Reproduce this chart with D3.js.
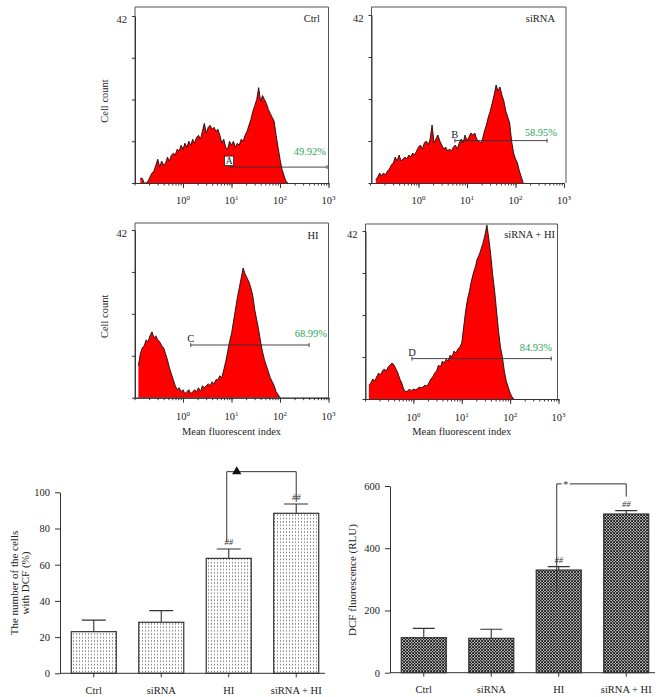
<!DOCTYPE html>
<html><head><meta charset="utf-8">
<script src="https://cdn.jsdelivr.net/npm/d3@7/dist/d3.min.js"></script>
<style>body{margin:0;background:#fff;} svg{display:block;font-family:"Liberation Serif","DejaVu Serif",serif;}</style>
</head><body>
<svg id="c" width="667" height="697"></svg>
<script>
// ---------------- DATA ----------------
const panelNames = ["Ctrl", "siRNA", "HI", "siRNA + HI"];
const gateLetters = ["A", "B", "C", "D"];
const gatePercents = ["49.92%", "58.95%", "68.99%", "84.93%"];
const gateFrom = [0.95, 0.75, 0.16, -0.03];   // log10 of fluorescence
const gateTo = [2.97, 2.65, 2.6, 2.85];
const gateLevel = [4.0, 10.6, 13.2, 10.1];      // cell count level
const binStep = 0.04;                           // log10 channel width
const yMaxCount = 42;
const countTicks = [0, 10.5, 21, 31.5, 42];
const xMajorTicks = [1, 10, 100, 1000];
const xMajorExp = ["0", "1", "2", "3"];

const ctrlStart = -0.88;
const ctrlCounts = [1.2, 1.2, 0, 0, 0.5, 1.5, 2.5, 3, 4.5, 6, 4, 5.5, 4.5, 5, 6.5, 5.5, 7, 7.5, 7, 8.5, 8, 9.5, 8.5, 10, 9, 10.5, 9.5, 11, 10, 11.5, 12, 11, 13, 15, 12.5, 14, 14.5, 13.5, 14, 13, 13.5, 12, 10, 11, 9, 8.5, 10.5, 9.5, 10.5, 9, 10, 9.5, 11, 10.5, 12, 13, 14.5, 16, 18, 19.5, 21, 24, 20.5, 22, 21, 20, 18.5, 17.5, 16.5, 15.5, 12, 9, 6, 3.5, 2, 0.5, 0];
const sirnaStart = -0.88;
const sirnaCounts = [0.8, 1.5, 2.5, 1.8, 2.5, 2, 3, 3.5, 4.5, 5, 6.5, 5.5, 7, 5.5, 6, 6.5, 6, 7, 6.5, 7.5, 7, 8, 9, 9.5, 8.5, 10, 10.5, 9.5, 11, 14.5, 10, 11, 12, 10.5, 9.5, 8.5, 9, 8, 8.5, 8, 9, 9.5, 8.5, 10, 11, 10, 12, 10.5, 11.5, 12.5, 12, 12.5, 11, 10.5, 10, 11, 13, 14.5, 16.5, 18, 20, 22, 24.5, 23, 24, 22, 20.5, 18, 16.5, 15, 10.5, 7.5, 6, 5, 3, 1.5, 0];
const hiStart = -0.92;
const hiCounts = [8, 11, 12.5, 13, 14.5, 14, 15.5, 16.5, 15, 15.5, 14.5, 14, 13, 12.5, 11, 9.5, 7.5, 6, 4.5, 3, 2, 2.5, 1.5, 2, 1, 1.5, 2, 1, 1.5, 2, 1.5, 2.5, 1.5, 3, 2.5, 3, 3.5, 3, 4, 3.5, 4.5, 4.5, 5.5, 5, 7, 9, 11.5, 14, 16, 19, 22, 25, 27.5, 30, 32.5, 31, 30, 29, 27.5, 25.5, 22, 19.5, 17, 14, 11.5, 9.5, 8, 6.5, 5, 4, 3, 1.5, 0.8, 0];
const sirnaHiStart = -0.92;
const sirnaHiCounts = [3.5, 4, 5, 4.5, 5.5, 6.5, 6, 7, 7.5, 7, 8, 8.5, 9, 8.5, 7.5, 6.5, 5, 4, 2.5, 1.8, 2, 2.5, 2, 2.5, 2.3, 2.5, 3, 2.8, 3, 3.5, 3.2, 4, 5, 5.5, 6.5, 7, 8.5, 8, 9.5, 9, 10, 9.5, 11, 10.5, 12, 11.5, 12.5, 13, 14, 18, 22, 25, 27, 29.5, 31.5, 33, 35, 36, 37.5, 39, 41, 43.5, 40, 36, 31, 27, 22, 17, 13, 10.5, 7, 4.5, 3, 1.5, 0.5, 0];

const groups = ["Ctrl", "siRNA", "HI", "siRNA + HI"];
const dcfPercent = [23, 28.2, 63.5, 88.4];
const dcfPercentErr = [6.4, 6.4, 5.2, 5.1];
const dcfRLU = [112.5, 110.5, 330, 510];
const dcfRLUErr = [30, 29, 11, 11];
const percentTicks = [0, 20, 40, 60, 80, 100];
const rluTicks = [0, 200, 400, 600];
const hashMarks = ["", "", "##", "##"];

// ---------------- LAYOUT ----------------
const histStarts = [ctrlStart, sirnaStart, hiStart, sirnaHiStart];
const histCounts = [ctrlCounts, sirnaCounts, hiCounts, sirnaHiCounts];
const histLayout = [
  {x0: 134.5, x1: 328.5, yBase: 183, yTop: 16, frameTop: 7, frameRight: 328.5, axisX: 135, titleX: 320, titleY: 21.5, lblDy: 21, pctX: 326, pctY: 154.5, ylabel: true, xlabel: false, boxLetter: true},
  {x0: 370, x1: 564, yBase: 183, yTop: 15, frameTop: 7, frameRight: 566, axisX: 371.5, titleX: 555, titleY: 21.5, lblDy: 21, pctX: 557, pctY: 135.5, ylabel: false, xlabel: false, boxLetter: false},
  {x0: 134.5, x1: 328.5, yBase: 397.7, yTop: 230, frameTop: 223, frameRight: 328.5, axisX: 135, titleX: 318.5, titleY: 238.5, lblDy: 22.5, pctX: 327, pctY: 336.5, ylabel: true, xlabel: true, boxLetter: false},
  {x0: 365, x1: 558.5, yBase: 399, yTop: 231, frameTop: 224, frameRight: 557.5, axisX: 365.5, titleX: 555, titleY: 237.5, lblDy: 22, pctX: 552, pctY: 350.5, ylabel: false, xlabel: true, boxLetter: false}
];

const svg = d3.select("#c");
const defs = svg.append("defs");
// dotted pattern
const pd = defs.append("pattern").attr("id", "dots").attr("patternUnits", "userSpaceOnUse").attr("width", 3).attr("height", 3.4);
pd.append("rect").attr("width", 3).attr("height", 3.4).attr("fill", "#fff");
pd.append("rect").attr("x", 1).attr("y", 1.2).attr("width", 1).attr("height", 1).attr("fill", "#444");
// checker pattern
const pc = defs.append("pattern").attr("id", "checks").attr("patternUnits", "userSpaceOnUse").attr("width", 3).attr("height", 3);
pc.append("rect").attr("width", 3).attr("height", 3).attr("fill", "#1a1a1a");
pc.append("rect").attr("x", 1.5).attr("y", 0).attr("width", 1.2).attr("height", 1.2).attr("fill", "#fff");
pc.append("rect").attr("x", 0).attr("y", 1.5).attr("width", 1.2).attr("height", 1.2).attr("fill", "#fff");

function drawPanel(i) {
  const L = histLayout[i];
  const x = d3.scaleLog().domain([0.1, 1000]).range([L.x0, L.x1]);
  const y = d3.scaleLinear().domain([0, yMaxCount]).range([L.yBase, L.yTop]);
  const g = svg.append("g");
  const pts = histCounts[i].map((c, k) => ({v: Math.pow(10, histStarts[i] + k * binStep), c}));
  g.append("path").datum(pts)
    .attr("d", d3.area().x(d => x(d.v)).y0(y(0)).y1(d => y(d.c)))
    .attr("fill", "#ff0000");
  g.append("path").datum(pts)
    .attr("d", d3.line().x(d => x(d.v)).y(d => y(d.c)))
    .attr("fill", "none").attr("stroke", "#111").attr("stroke-width", 0.9);
  // frame
  g.append("path").attr("d", `M${L.axisX},${L.yBase}V${L.frameTop}H${L.frameRight}V${L.yBase}`)
    .attr("fill", "none").attr("stroke", "#555").attr("stroke-width", 1);
  // x axis
  const ax1 = g.append("g").attr("transform", `translate(0,${L.yBase})`)
    .call(d3.axisBottom(x).tickValues(x.ticks()).tickSize(2.5).tickSizeOuter(0).tickFormat(""));
  const ax2 = g.append("g").attr("transform", `translate(0,${L.yBase})`)
    .call(d3.axisBottom(x).tickValues(xMajorTicks).tickSize(5).tickSizeOuter(0).tickFormat(""));
  [ax1, ax2].forEach(a => { a.selectAll("path,line").attr("stroke", "#333"); });
  xMajorTicks.forEach((v, k) => {
    const t = g.append("text").attr("x", x(v)).attr("y", L.yBase + L.lblDy)
      .attr("text-anchor", "middle").attr("font-size", 10.5).attr("fill", "#222");
    t.append("tspan").text("10");
    t.append("tspan").attr("dy", -4.5).attr("font-size", 7).text(xMajorExp[k]);
  });
  // y axis
  const ay = g.append("g").attr("transform", `translate(${L.axisX},0)`)
    .call(d3.axisLeft(y).tickValues(countTicks).tickSize(3).tickSizeOuter(0).tickFormat(""));
  ay.selectAll("path,line").attr("stroke", "#333");
  g.append("text").attr("x", L.axisX - 8).attr("y", y(yMaxCount) + 7).attr("text-anchor", "end")
    .attr("font-size", 10.5).attr("fill", "#222").text(String(yMaxCount));
  // title
  g.append("text").attr("x", L.titleX).attr("y", L.titleY).attr("text-anchor", "end")
    .attr("font-size", 10.5).attr("fill", "#222").text(panelNames[i]);
  // gate
  const gx0 = x(Math.pow(10, gateFrom[i])), gx1 = x(Math.pow(10, gateTo[i])), gy = y(gateLevel[i]);
  g.append("path").attr("d", `M${gx0},${gy - 2}V${gy + 2}M${gx0},${gy}H${gx1}M${gx1},${gy - 2}V${gy + 2}`)
    .attr("stroke", "#333").attr("stroke-width", 0.9).attr("fill", "none");
  if (L.boxLetter) {
    g.append("rect").attr("x", gx0 - 4.5).attr("y", gy - 11).attr("width", 9).attr("height", 9.5)
      .attr("fill", "#fff").attr("stroke", "#222").attr("stroke-width", 0.8);
    g.append("text").attr("x", gx0).attr("y", gy - 3).attr("text-anchor", "middle")
      .attr("font-size", 9.5).attr("fill", "#222").text(gateLetters[i]);
  } else {
    g.append("text").attr("x", gx0).attr("y", gy - 3).attr("text-anchor", "middle")
      .attr("font-size", 10.5).attr("fill", "#222").text(gateLetters[i]);
  }
  g.append("text").attr("x", L.pctX).attr("y", L.pctY).attr("text-anchor", "end")
    .attr("font-size", 10.5).attr("fill", "#2ea858").text(gatePercents[i]);
  if (L.ylabel) {
    g.append("text").attr("transform", `translate(108,${(L.yBase + L.frameTop) / 2 + 6}) rotate(-90)`)
      .attr("text-anchor", "middle").attr("font-size", 10.5).attr("fill", "#222").text("Cell count");
  }
  if (L.xlabel) {
    g.append("text").attr("x", (L.x0 + L.x1) / 2 + 0).attr("y", 434.5).attr("text-anchor", "middle")
      .attr("font-size", 10.5).attr("fill", "#222").text("Mean fluorescent index");
  }
}
[0, 1, 2, 3].forEach(drawPanel);

// ---------------- BAR CHARTS ----------------
function drawBars(cfg) {
  const x = d3.scaleBand().domain(groups).range(cfg.xr).paddingInner(0.333).paddingOuter(0.167);
  const y = d3.scaleLinear().domain(cfg.dom).range(cfg.yr);
  const g = svg.append("g");
  g.selectAll("rect.bar").data(cfg.vals).join("rect").attr("class", "bar")
    .attr("x", (d, i) => x(groups[i])).attr("width", x.bandwidth())
    .attr("y", d => y(d)).attr("height", d => y(0) - y(d))
    .attr("fill", `url(#${cfg.pattern})`).attr("stroke", "#333").attr("stroke-width", 1.2);
  cfg.vals.forEach((v, i) => {
    const cx = x(groups[i]) + x.bandwidth() / 2;
    const top = y(v + cfg.errs[i]);
    g.append("path").attr("d", `M${cx},${y(v)}V${top}M${cx - cfg.cap},${top}H${cx + cfg.cap}`)
      .attr("stroke", "#333").attr("stroke-width", 1.1).attr("fill", "none");
    if (hashMarks[i]) {
      g.append("text").attr("x", cx).attr("y", top - 4).attr("text-anchor", "middle")
        .attr("font-size", 8.5).attr("font-style", "italic").attr("fill", "#333").text(hashMarks[i]);
    }
  });
  const ya = g.append("g").attr("transform", `translate(${cfg.xr[0]},0)`)
    .call(d3.axisLeft(y).tickValues(cfg.ticks).tickSize(5).tickSizeOuter(0).tickPadding(5));
  ya.selectAll("path,line").attr("stroke", "#333");
  ya.selectAll("text").attr("font-size", 10.5).attr("font-family", "Liberation Serif").attr("fill", "#222");
  const xa = g.append("g").attr("transform", `translate(0,${y(0)})`)
    .call(d3.axisBottom(x).tickSize(4).tickSizeOuter(0).tickPadding(9));
  xa.select("path").attr("d", `M${cfg.xr[0]},0H${cfg.xr[1] - 5}`);
  xa.selectAll("path,line").attr("stroke", "#333");
  xa.selectAll("text").attr("font-size", 10.5).attr("font-family", "Liberation Serif").attr("fill", "#222");
  // significance bracket
  const bx0 = x(groups[2]) + x.bandwidth() / 2 - 2, bx1 = x(groups[3]) + x.bandwidth() / 2;
  const by0 = y(cfg.br[0]), byt = y(cfg.br[1]), by1 = y(cfg.br[2]);
  g.append("path").attr("d", `M${bx0},${by0}V${byt}H${bx1}V${by1}`)
    .attr("stroke", "#333").attr("stroke-width", 1).attr("fill", "none");
  if (cfg.sym === "tri") {
    g.append("path").attr("d", d3.symbol(d3.symbolTriangle, 38)()).attr("transform", `translate(${bx0 + 10},${byt})`).attr("fill", "#111");
  } else {
    g.append("rect").attr("x", bx0 + 5).attr("y", byt - 4).attr("width", 8).attr("height", 8).attr("fill", "#fff");
    g.append("text").attr("x", bx0 + 9).attr("y", byt + 4.5).attr("text-anchor", "middle")
      .attr("font-size", 10).attr("fill", "#333").text("*");
  }
  const yl = g.append("text").attr("transform", `translate(${cfg.ylx},${cfg.yly}) rotate(-90)`)
    .attr("text-anchor", "middle").attr("font-size", 11).attr("fill", "#222");
  cfg.ylabel.forEach((s, k) => yl.append("tspan").attr("x", 0).attr("dy", k === 0 ? (cfg.ylabel.length > 1 ? -2 : 4) : 11).text(s));
}

drawBars({xr: [60, 330], yr: [673.3, 492.3], dom: [0, 100], vals: dcfPercent, errs: dcfPercentErr,
  ticks: percentTicks, pattern: "dots", cap: 12, br: [72.7, 111.4, 94.8], sym: "tri",
  ylx: 20, yly: 583, ylabel: ["The number of the cells", "with DCF (%)"]});
drawBars({xr: [390, 660], yr: [672.7, 486], dom: [0, 600], vals: dcfRLU, errs: dcfRLUErr,
  ticks: rluTicks, pattern: "checks", cap: 11, br: [255, 606.8, 566], sym: "star",
  ylx: 352, yly: 580, ylabel: ["DCF fluorescence (RLU)"]});
</script>
</body></html>
